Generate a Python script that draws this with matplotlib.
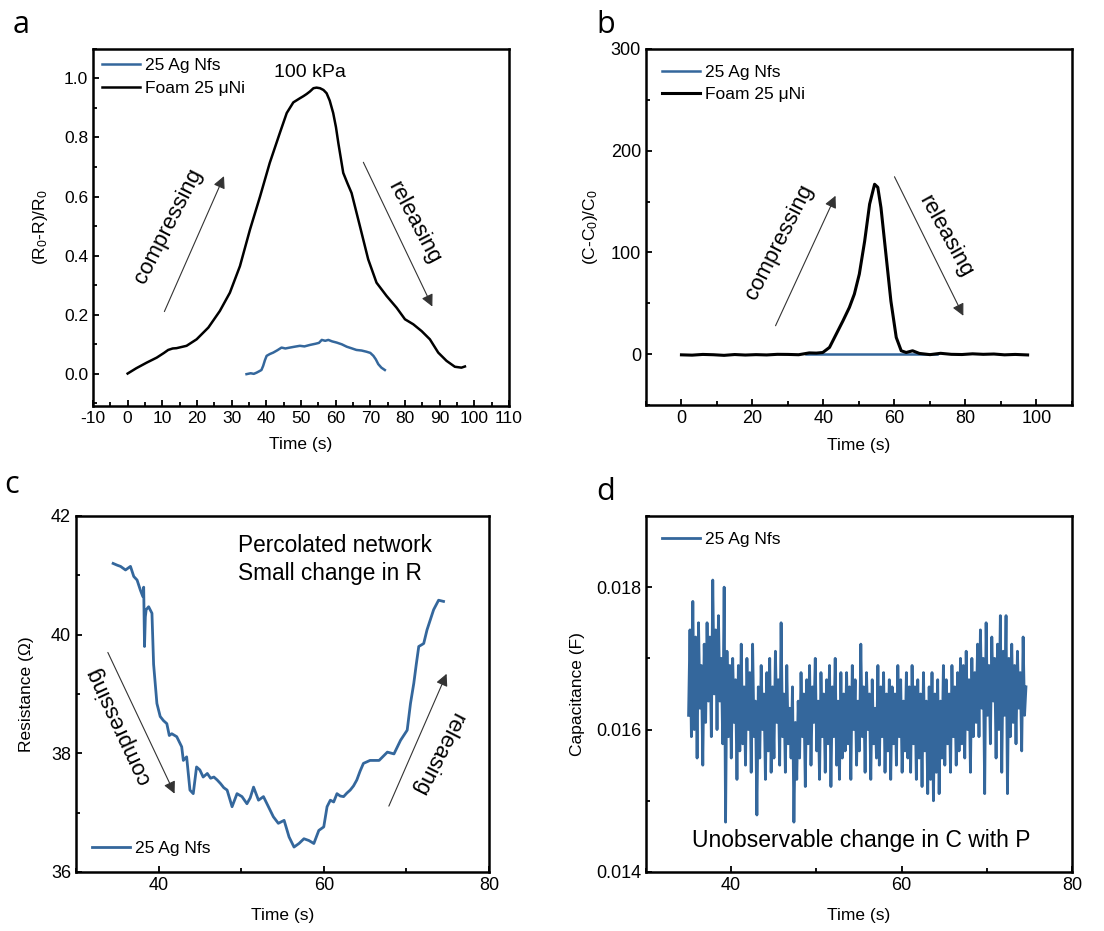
import numpy as np
import matplotlib
matplotlib.use("Agg")
import matplotlib.pyplot as plt
from matplotlib.ticker import MultipleLocator, FormatStrFormatter

plt.rcParams["font.family"] = ["Liberation Sans", "DejaVu Sans"]
plt.rcParams["mathtext.fontset"] = "custom"
plt.rcParams["mathtext.rm"] = "Liberation Sans"
plt.rcParams["mathtext.it"] = "Liberation Sans:italic"
plt.rcParams["axes.unicode_minus"] = False

BLUE = "#34679c"

# ---- panel a: (R0-R)/R0 vs time ----
A_FOAM_T = [0, 2.5, 5.5, 8.4, 10.5, 11.7, 13, 14.1, 17, 19.9, 23.3, 26.6, 29.5, 32.4,
            35.3, 38.2, 41, 43.9, 45.9, 47.8, 49.7, 50.7, 51.6, 52.6, 53.6, 54.5,
            55.5, 56.5, 57.4, 58.3, 59.3, 60.1, 60.8, 61.5, 62.2, 63.4, 64.6, 67,
            69.4, 71.8, 74.7, 77.6, 80, 82.4, 84.8, 87.2, 89.6, 92, 94.4, 96.3, 97.3]
A_FOAM_Y = [0.0, 0.018, 0.037, 0.054, 0.07, 0.08, 0.085, 0.086, 0.094, 0.116, 0.156,
            0.212, 0.274, 0.364, 0.488, 0.6, 0.714, 0.815, 0.883, 0.919, 0.933,
            0.94, 0.947, 0.956, 0.967, 0.969, 0.967, 0.961, 0.95, 0.925, 0.883,
            0.835, 0.78, 0.73, 0.68, 0.645, 0.612, 0.5, 0.387, 0.308, 0.263, 0.223,
            0.184, 0.167, 0.144, 0.116, 0.071, 0.043, 0.023, 0.02, 0.024]
A_AG_T = [34.3, 35.5, 36.4, 37.2, 38.0, 38.6, 39.1, 39.6, 40.1, 41.0, 42.0, 43.2,
          44.4, 45.5, 46.8, 48.2, 49.7, 51.0, 52.6, 54.2, 55.2, 56.0, 57.0, 57.9,
          59.0, 60.3, 61.8, 63.2, 64.5, 66.0, 67.5, 68.9, 70.0, 70.9, 71.6, 72.3,
          73.2, 74.2]
A_AG_Y = [-0.002, 0.001, -0.001, 0.003, 0.008, 0.012, 0.026, 0.045, 0.06, 0.066,
          0.071, 0.079, 0.088, 0.085, 0.088, 0.091, 0.094, 0.092, 0.097, 0.101,
          0.104, 0.114, 0.111, 0.114, 0.109, 0.105, 0.099, 0.091, 0.086, 0.08,
          0.078, 0.074, 0.07, 0.06, 0.048, 0.032, 0.02, 0.012]

# ---- panel b: (C-C0)/C0 vs time ----
B_FOAM_T = [0, 3, 6, 9, 12, 15, 18, 21, 24, 27, 30, 33, 36, 38, 39.8, 41.7, 43.6,
            45.5, 47.3, 48.7, 50.1, 51.6, 53, 54.4, 55.3, 56.2, 57.6, 59, 60.5,
            61.9, 63.3, 65.1, 67, 70, 73, 76, 79, 82, 85, 88, 91, 94, 97.5]
B_FOAM_Y = [-0.7, -1.0, -0.3, -0.6, -1.2, -0.4, -0.9, -0.5, -0.8, -0.2, -0.3, -0.6,
            1.2, 1.0, 1.6, 6.6, 19.7, 32.8, 45.9, 59, 78.7, 111, 147.5, 167, 164,
            144, 98, 52, 16.4, 3.3, 1.6, 3.3, 0.7, -0.5, 0.8, -0.2, -0.4, 0.3, -0.2,
            0.1, -0.7, -0.3, -0.8]
B_AG_T = [35, 40, 45, 50, 55, 60, 65, 72]
B_AG_Y = [0, 0, 0, 0, 0, 0, 0, 0]

# ---- panel c: resistance vs time ----
C_T = [34.5, 35.0, 35.4, 36.0, 36.6, 37.0, 37.4, 37.8, 38.1, 38.2, 38.3, 38.4, 38.5,
       38.8, 39.2, 39.4, 39.8, 40.2, 40.6, 41.0, 41.3, 41.6, 42.2, 42.8, 43.0, 43.4,
       43.8, 44.2, 44.6, 45.0, 45.4, 45.9, 46.3, 46.7, 47.1, 47.5, 47.9, 48.3, 48.9,
       49.5, 50.1, 50.7, 51.1, 51.5, 52.1, 52.7, 53.3, 53.9, 54.5, 55.2, 55.8, 56.4,
       57.0, 57.6, 58.2, 58.8, 59.4, 60.0, 60.4, 60.8, 61.2, 61.6, 62.0, 62.4, 62.8,
       63.2, 63.6, 64.0, 64.4, 64.8, 65.6, 66.7, 67.7, 68.5, 69.3, 70.1, 70.5, 70.9,
       71.2, 71.5, 72.1, 72.5, 72.9, 73.3, 73.9, 74.5]
C_R = [41.2, 41.17, 41.15, 41.09, 41.15, 40.98, 40.92, 40.75, 40.64, 40.8, 39.8,
       40.3, 40.42, 40.47, 40.36, 39.5, 38.84, 38.62, 38.55, 38.5, 38.3, 38.33, 38.28,
       38.11, 37.88, 37.94, 37.38, 37.32, 37.77, 37.72, 37.6, 37.66, 37.58, 37.6,
       37.55, 37.49, 37.42, 37.38, 37.1, 37.32, 37.27, 37.15, 37.25, 37.43, 37.21,
       37.27, 37.1, 36.93, 36.82, 36.87, 36.59, 36.42, 36.48, 36.56, 36.53, 36.48,
       36.7, 36.76, 37.1, 37.21, 37.18, 37.32, 37.28, 37.27, 37.33, 37.38, 37.45,
       37.55, 37.7, 37.83, 37.88, 37.88, 38.02, 37.99, 38.22, 38.39, 38.84, 39.18,
       39.5, 39.8, 39.85, 40.08, 40.25, 40.42, 40.58, 40.56]

# ---- panel d: capacitance (mF) vs time, sampled evenly from 35.0 s to 74.6 s ----
D_CAP_MF = [
    16.2, 17.4, 15.9, 17.8, 16.0, 17.3, 15.6, 17.5, 16.3, 16.9, 15.5, 17.2,
    16.1, 17.5, 16.4, 17.3, 15.9, 18.1, 16.5, 17.4, 16.0, 17.6, 16.4, 17.0,
    15.8, 18.0, 14.7, 17.1, 15.9, 16.9, 15.6, 17.0, 16.1, 16.7, 15.3, 16.9,
    15.7, 17.2, 15.8, 16.6, 15.5, 17.0, 16.0, 16.8, 15.4, 17.2, 15.9, 16.4,
    14.8, 16.6, 15.6, 16.9, 16.0, 16.5, 15.3, 16.8, 15.7, 17.0, 15.4, 16.6,
    15.6, 17.1, 16.1, 16.7, 15.5, 17.5, 15.9, 16.5, 15.4, 16.9, 15.8, 16.3,
    15.6, 16.6, 14.7, 16.1, 15.3, 16.4, 15.6, 16.8, 15.9, 16.5, 15.2, 16.7,
    15.8, 16.9, 15.5, 16.6, 16.1, 17.0, 15.7, 16.4, 15.3, 16.8, 15.9, 16.5,
    15.4, 16.7, 15.8, 16.9, 15.2, 16.6, 15.9, 17.0, 15.5, 16.4, 15.3, 16.8,
    15.6, 16.5, 15.7, 16.8, 15.8, 16.6, 15.3, 16.9, 16.0, 16.7, 15.5, 16.4,
    15.7, 17.2, 15.9, 16.6, 15.4, 16.8, 16.0, 16.5, 15.3, 16.7, 15.8, 16.3,
    15.6, 16.9, 15.5, 16.6, 15.9, 16.8, 15.4, 16.5, 15.7, 16.7, 15.3, 16.6,
    15.8, 16.5, 15.5, 16.9, 15.9, 16.7, 15.4, 16.4, 15.7, 16.8, 15.6, 16.6,
    15.4, 16.9, 15.8, 16.6, 15.3, 16.7, 15.6, 16.5, 15.2, 16.8, 15.7, 16.4,
    15.1, 16.6, 15.3, 16.8, 15.0, 16.5, 15.4, 16.7, 15.1, 16.4, 15.6, 16.9,
    15.5, 16.7, 15.8, 16.5, 15.4, 16.9, 15.9, 16.6, 15.5, 16.8, 15.7, 17.0,
    15.8, 16.9, 15.6, 17.1, 16.0, 16.7, 15.4, 17.0, 15.9, 16.8, 16.1, 17.2,
    15.9, 17.4, 16.3, 17.0, 15.1, 17.5, 16.2, 16.9, 15.8, 17.3, 16.4, 17.0,
    15.6, 17.2, 16.0, 17.6, 15.4, 17.1, 16.2, 17.6, 15.1, 17.0, 15.9, 17.2,
    16.1, 16.9, 15.8, 17.1, 16.3, 16.8, 15.7, 17.3, 16.2, 16.6,
]
D_T_START, D_T_END = 35.0, 74.6

TICK_FS = 13
LABEL_FS = 12.5
LEG_FS = 12.5
NOTE_FS = 16
ARROW = dict(arrowstyle="-|>", lw=0.8, color="#333333", mutation_scale=18,
             shrinkA=0, shrinkB=0)


def style_axes(ax):
    for s in ax.spines.values():
        s.set_linewidth(1.8)
    ax.tick_params(which="both", direction="in", width=1.3, labelsize=TICK_FS,
                   top=False, right=False)
    ax.tick_params(which="major", length=4)
    ax.tick_params(which="minor", length=3)


fig = plt.figure(figsize=(11.04, 9.31), dpi=100)
ax_a = fig.add_axes([0.0842, 0.5639, 0.3768, 0.3835])
ax_b = fig.add_axes([0.5851, 0.5650, 0.3859, 0.3824])
ax_c = fig.add_axes([0.0688, 0.0634, 0.3741, 0.3824])
ax_d = fig.add_axes([0.5851, 0.0634, 0.3859, 0.3824])

# panel a
ax_a.plot(A_AG_T, A_AG_Y, color=BLUE, lw=1.8, label="25 Ag Nfs")
ax_a.plot(A_FOAM_T, A_FOAM_Y, color="black", lw=1.8, label="Foam 25 \u03bcNi")
ax_a.set_xlim(-10, 110)
ax_a.set_ylim(-0.11, 1.1)
ax_a.xaxis.set_major_locator(MultipleLocator(10))
ax_a.xaxis.set_minor_locator(MultipleLocator(5))
ax_a.yaxis.set_major_locator(MultipleLocator(0.2))
ax_a.yaxis.set_minor_locator(MultipleLocator(0.1))
ax_a.yaxis.set_major_formatter(FormatStrFormatter("%.1f"))
style_axes(ax_a)
ax_a.tick_params(labelsize=12.5)
ax_a.set_xlabel("Time (s)", fontsize=LABEL_FS, labelpad=8)
ax_a.set_ylabel(r"(R$_0$-R)/R$_0$", fontsize=LABEL_FS, labelpad=10)
ax_a.legend(loc="upper left", frameon=False, fontsize=LEG_FS, handlelength=2.2,
            handletextpad=0.3, borderaxespad=0.1, labelspacing=0.45)
ax_a.text(52.6, 1.02, "100 kPa", fontsize=14, ha="center", va="center")
ax_a.text(11.7, 0.50, "compressing", fontsize=NOTE_FS, rotation=63,
          ha="center", va="center")
ax_a.text(82.7, 0.51, "releasing", fontsize=NOTE_FS, rotation=-62,
          ha="center", va="center")
ax_a.annotate("", xy=(27.8, 0.669), xytext=(10.6, 0.21), arrowprops=ARROW)
ax_a.annotate("", xy=(87.9, 0.227), xytext=(68.0, 0.716), arrowprops=ARROW)

# panel b
ax_b.plot(B_AG_T, B_AG_Y, color=BLUE, lw=1.8, label="25 Ag Nfs")
ax_b.plot(B_FOAM_T, B_FOAM_Y, color="black", lw=2.2, label="Foam 25 \u03bcNi")
ax_b.set_xlim(-10, 110)
ax_b.set_ylim(-50, 300)
ax_b.xaxis.set_minor_locator(MultipleLocator(10))
ax_b.yaxis.set_minor_locator(MultipleLocator(50))
ax_b.set_xticks([0, 20, 40, 60, 80, 100])
ax_b.set_yticks([0, 100, 200, 300])
style_axes(ax_b)
ax_b.set_xlabel("Time (s)", fontsize=LABEL_FS, labelpad=8)
ax_b.set_ylabel(r"(C-C$_0$)/C$_0$", fontsize=LABEL_FS, labelpad=8)
ax_b.legend(loc="upper left", frameon=False, fontsize=LEG_FS, handlelength=2.2,
            handletextpad=0.3, borderaxespad=0.5, labelspacing=0.4)
ax_b.text(27.6, 110, "compressing", fontsize=NOTE_FS, rotation=63,
          ha="center", va="center")
ax_b.text(74.3, 116, "releasing", fontsize=NOTE_FS, rotation=-61,
          ha="center", va="center")
ax_b.annotate("", xy=(43.4, 155.7), xytext=(26.5, 27.9), arrowprops=ARROW)
ax_b.annotate("", xy=(79.4, 37.7), xytext=(60.0, 174.4), arrowprops=ARROW)

# panel c
ax_c.plot(C_T, C_R, color=BLUE, lw=2.0, label="25 Ag Nfs")
ax_c.set_xlim(30, 80)
ax_c.set_ylim(36, 42)
ax_c.xaxis.set_minor_locator(MultipleLocator(10))
ax_c.yaxis.set_major_locator(MultipleLocator(2))
ax_c.yaxis.set_minor_locator(MultipleLocator(1))
ax_c.set_xticks([40, 60, 80])
style_axes(ax_c)
ax_c.set_xlabel("Time (s)", fontsize=LABEL_FS, labelpad=10)
ax_c.set_ylabel("Resistance (\u03a9)", fontsize=LABEL_FS, labelpad=12)
ax_c.legend(loc="lower left", frameon=False, fontsize=LEG_FS, handlelength=2.2,
            handletextpad=0.3, borderaxespad=0.5)
ax_c.text(49.6, 41.27, "Percolated network\nSmall change in R", fontsize=16.3,
          ha="left", va="center", linespacing=1.3)
ax_c.text(35.15, 38.47, "compressing", fontsize=NOTE_FS, rotation=115,
          ha="center", va="center")
ax_c.text(73.7, 37.99, "releasing", fontsize=NOTE_FS, rotation=-117,
          ha="center", va="center")
ax_c.annotate("", xy=(41.94, 37.32), xytext=(33.86, 39.7), arrowprops=ARROW)
ax_c.annotate("", xy=(74.87, 39.34), xytext=(67.88, 37.11), arrowprops=ARROW)

# panel d
d_cap = np.array(D_CAP_MF) * 1e-3
d_t = np.linspace(D_T_START, D_T_END, len(d_cap))
ax_d.plot(d_t, d_cap, color=BLUE, lw=2.0, label="25 Ag Nfs")
ax_d.set_xlim(30, 80)
ax_d.set_ylim(0.014, 0.019)
ax_d.xaxis.set_minor_locator(MultipleLocator(10))
ax_d.yaxis.set_minor_locator(MultipleLocator(0.001))
ax_d.yaxis.set_major_formatter(FormatStrFormatter("%.3f"))
ax_d.set_xticks([40, 60, 80])
ax_d.set_yticks([0.014, 0.016, 0.018])
style_axes(ax_d)
ax_d.set_xlabel("Time (s)", fontsize=LABEL_FS, labelpad=10)
ax_d.set_ylabel("Capacitance (F)", fontsize=LABEL_FS, labelpad=8)
ax_d.legend(loc="upper left", frameon=False, fontsize=LEG_FS, handlelength=2.2,
            handletextpad=0.3, borderaxespad=0.5)
ax_d.text(55.3, 0.01444, "Unobservable change in C with P", fontsize=16.5,
          ha="center", va="center")

# panel letters
for x, y, s in [(0.011, 0.973, "a"), (0.540, 0.973, "b"),
                (0.004, 0.479, "c"), (0.540, 0.471, "d")]:
    fig.text(x, y, s, fontsize=22, family=["Open Sans", "DejaVu Sans"],
             ha="left", va="center")

fig.savefig("out.png", dpi=100)
